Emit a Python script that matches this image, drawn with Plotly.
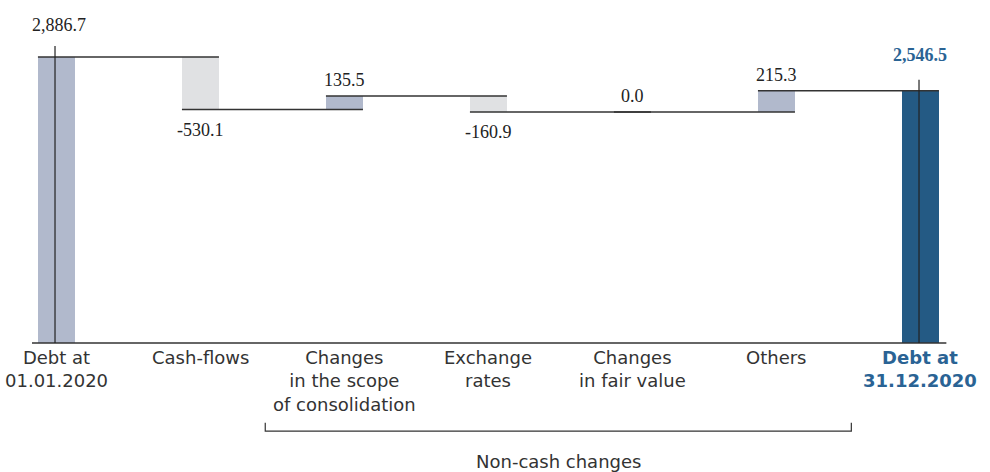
import plotly.graph_objects as go

categories = ["Debt at<br>01.01.2020", "Cash-flows", "Changes<br>in the scope<br>of consolidation",
              "Exchange<br>rates", "Changes<br>in fair value", "Others", "<b>Debt at<br>31.12.2020</b>"]
opening = 2886.7
changes = [-530.1, 135.5, -160.9, 0.0, 215.3]
closing = 2546.5
value_labels = ["2,886.7", "-530.1", "135.5", "-160.9", "0.0", "215.3", "2,546.5"]
group_label = "Non-cash changes"
group_first, group_last = 2, 5

C_LIGHT = "#b1b9cc"
C_GRAY = "#e0e1e3"
C_DARK = "#245a84"
C_LINE = "#333333"
C_BLUE_TXT = "#2a6394"

# floating bar geometry from data
bases, heights, colors, levels = [0.0], [opening], [C_LIGHT], [opening]
cum = opening
for d in changes:
    new = cum + d
    bases.append(min(cum, new))
    heights.append(abs(d))
    colors.append(C_LIGHT if d > 0 else C_GRAY)
    cum = new
    levels.append(cum)
bases.append(0.0)
heights.append(closing)
colors.append(C_DARK)
levels.append(closing)

xs = list(range(len(categories)))
W = 0.257

fig = go.Figure()
fig.add_trace(go.Bar(x=xs, y=heights, base=bases, width=W, marker_color=colors,
                     marker_line_width=0, hoverinfo="skip", showlegend=False))

shapes = []
# connectors: from left edge of bar i to right edge of bar i+1
for i in range(len(xs) - 1):
    shapes.append(dict(type="line", xref="x", yref="y", x0=xs[i] - W / 2, x1=xs[i + 1] + W / 2,
                       y0=levels[i], y1=levels[i], line=dict(color=C_LINE, width=1.5)))
# baseline
shapes.append(dict(type="line", xref="x", yref="y", x0=xs[0] - 0.17, x1=xs[-1] + 0.18, y0=0, y1=0,
                   line=dict(color=C_LINE, width=1.5)))
# vertical lines in total bars
for i, top in [(0, opening), (len(xs) - 1, closing)]:
    shapes.append(dict(type="line", xref="x", yref="y", x0=xs[i] - 0.01, x1=xs[i] - 0.01, y0=0, y1=top + 110,
                       line=dict(color="#222222", width=1.2)))
# bracket for non-cash changes
bx0, bx1 = group_first - 0.55, group_last + 0.52
by, bt = -890, -805
shapes.append(dict(type="path", xref="x", yref="y",
                   path=f"M {bx0},{bt} L {bx0},{by} L {bx1},{by} L {bx1},{bt}",
                   line=dict(color=C_LINE, width=1.2)))

annotations = []
serif = "Liberation Serif"
sans = "DejaVu Sans"
# value labels
for i, lab in enumerate(value_labels):
    if i == 0:
        annotations.append(dict(x=xs[i] + 0.02, y=opening + 110, text=lab, showarrow=False, yanchor="bottom",
                                yshift=9, font=dict(family=serif, size=18, color="#222222")))
    elif i == len(xs) - 1:
        annotations.append(dict(x=xs[i], y=closing + 110, text=f"<b>{lab}</b>", showarrow=False, yanchor="bottom",
                                yshift=13, font=dict(family=serif, size=18, color=C_BLUE_TXT)))
    else:
        d = changes[i - 1]
        if d < 0:
            annotations.append(dict(x=xs[i], y=bases[i], text=lab, showarrow=False, yanchor="top", yshift=-8,
                                    font=dict(family=serif, size=18, color="#222222")))
        else:
            annotations.append(dict(x=xs[i], y=bases[i] + heights[i], text=lab, showarrow=False, yanchor="bottom",
                                    yshift=4, font=dict(family=serif, size=18, color="#222222")))
# category labels
for i, cat in enumerate(categories):
    col = C_BLUE_TXT if i == len(xs) - 1 else "#333333"
    annotations.append(dict(x=xs[i], y=0, text=cat, showarrow=False, yanchor="top", yshift=-2,
                            font=dict(family=sans, size=18, color=col)))
annotations.append(dict(x=(bx0 + bx1) / 2, y=0, text=group_label, showarrow=False, yanchor="top", yshift=-106,
                        font=dict(family=sans, size=18, color="#333333")))

fig.update_layout(
    width=990, height=472,
    margin=dict(l=0, r=0, t=0, b=0),
    paper_bgcolor="white", plot_bgcolor="white",
    xaxis=dict(range=[-0.392, 6.483], visible=False, fixedrange=True),
    yaxis=dict(range=[-1302, 3462], visible=False, fixedrange=True),
    shapes=shapes, annotations=annotations, bargap=0,
)
fig.write_html("out.html")
